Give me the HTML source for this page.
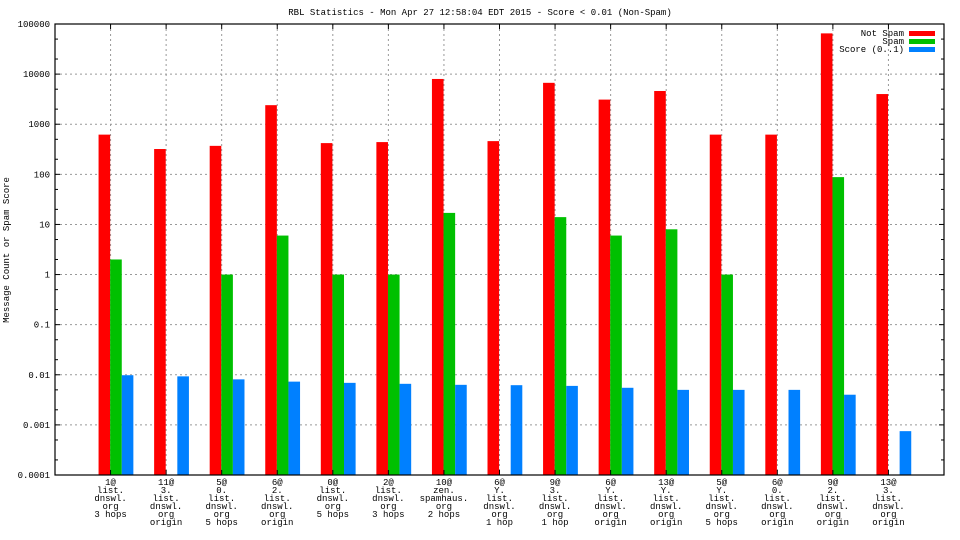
<!DOCTYPE html>
<html><head><meta charset="utf-8"><style>
body{margin:0;background:#fff;}
svg{display:block;font-family:"Liberation Mono",monospace;}
</style></head><body>
<svg id="chart" width="960" height="540" viewBox="0 0 960 540" xmlns="http://www.w3.org/2000/svg">
<text x="480" y="15" text-anchor="middle" font-size="9">RBL Statistics - Mon Apr 27 12:58:04 EDT 2015 - Score &lt; 0.01 (Non-Spam)</text>
<text transform="translate(9,250) rotate(-90)" text-anchor="middle" font-size="9">Message Count or Spam Score</text>
<g id="grid"></g><g id="bars"></g><g id="axes"></g>
<g font-size="9">
<text x="904" y="36" text-anchor="end">Not Spam</text>
<rect x="909" y="31" width="26" height="5" fill="#ff0000"/>
<text x="904" y="44" text-anchor="end">Spam</text>
<rect x="909" y="39" width="26" height="5" fill="#00c000"/>
<text x="904" y="52" text-anchor="end">Score (0..1)</text>
<rect x="909" y="47" width="26" height="5" fill="#0080ff"/>
</g>
</svg>
<script>
const categories=[["1@","list.","dnswl.","org","3 hops"],["11@","3.","list.","dnswl.","org","origin"],["5@","0.","list.","dnswl.","org","5 hops"],["6@","2.","list.","dnswl.","org","origin"],["0@","list.","dnswl.","org","5 hops"],["2@","list.","dnswl.","org","3 hops"],["10@","zen.","spamhaus.","org","2 hops"],["6@","Y.","list.","dnswl.","org","1 hop"],["9@","3.","list.","dnswl.","org","1 hop"],["6@","Y.","list.","dnswl.","org","origin"],["13@","Y.","list.","dnswl.","org","origin"],["5@","Y.","list.","dnswl.","org","5 hops"],["6@","0.","list.","dnswl.","org","origin"],["9@","2.","list.","dnswl.","org","origin"],["13@","3.","list.","dnswl.","org","origin"]];
const notSpam=[620,320,370,2400,420,440,8000,460,6700,3100,4600,620,620,65000,4000];
const spam=[2,0,1,6,1,1,17,0,14,6,8,1,0,88,0];
const score=[0.0098,0.0093,0.0081,0.0073,0.0069,0.0066,0.0063,0.0062,0.006,0.0055,0.005,0.005,0.005,0.004,0.00075];
const yTicks=["0.0001","0.001","0.01","0.1","1","10","100","1000","10000","100000"];
const NS="http://www.w3.org/2000/svg";
const L=55,R=944,T=24,B=475,yMin=-4,yMax=5;
const y=v=>B-(Math.log10(v)-yMin)/(yMax-yMin)*(B-T);
const slot=(R-L)/(categories.length+1);
const x=i=>L+slot*(i+1);
function mk(tag,attrs,parent){const e=document.createElementNS(NS,tag);for(const k in attrs)e.setAttribute(k,attrs[k]);document.getElementById(parent).appendChild(e);return e;}
yTicks.forEach(t=>{const v=parseFloat(t),yy=y(v);
 if(yy>T+1&&yy<B-1){const g=mk('line',{x1:L,x2:R,y1:yy,y2:yy,stroke:'#999','stroke-dasharray':'2,3'},'grid');}
 const tx=mk('text',{x:L-5,y:yy+3,'text-anchor':'end','font-size':'9'},'axes');tx.textContent=t;
 
 mk('line',{x1:L,x2:L+5,y1:yy,y2:yy,stroke:'#000'},'axes');mk('line',{x1:R-5,x2:R,y1:yy,y2:yy,stroke:'#000'},'axes');
 [2,5].forEach(m=>{const my=y(v*m);if(my>T){mk('line',{x1:L,x2:L+3,y1:my,y2:my,stroke:'#000'},'axes');mk('line',{x1:R-3,x2:R,y1:my,y2:my,stroke:'#000'},'axes');}});
});
categories.forEach((c,i)=>{const cx=x(i);
 const g=mk('line',{x1:cx,x2:cx,y1:T,y2:B,stroke:'#999','stroke-dasharray':'2,3'},'grid');
 
 mk('line',{x1:cx,x2:cx,y1:T,y2:T+5,stroke:'#000'},'axes');mk('line',{x1:cx,x2:cx,y1:B-5,y2:B,stroke:'#000'},'axes');
 const t=mk('text',{x:cx,y:485,'text-anchor':'middle','font-size':'9'},'axes');
 
 c.forEach((ln,j)=>{const s=document.createElementNS(NS,'tspan');s.setAttribute('x',cx);s.setAttribute('dy',j?8:0);s.textContent=ln;t.appendChild(s);});
 const bw=11.6;
 [[notSpam,'#ff0000','bar-not-spam',-12],[spam,'#00c000','bar-spam',-0.4],[score,'#0080ff','bar-score',11.2]].forEach(([arr,col,nm,off])=>{
  const v=arr[i];if(!(v>0))return;const yy=Math.max(T,y(v));
  const r=mk('rect',{x:cx+off,y:yy,width:bw,height:B-yy,fill:col},'bars');
  
 });
});
const fr=mk('rect',{x:L,y:T,width:R-L,height:B-T,fill:'none',stroke:'#000','stroke-width':1.2},'axes');

</script>
</body></html>
